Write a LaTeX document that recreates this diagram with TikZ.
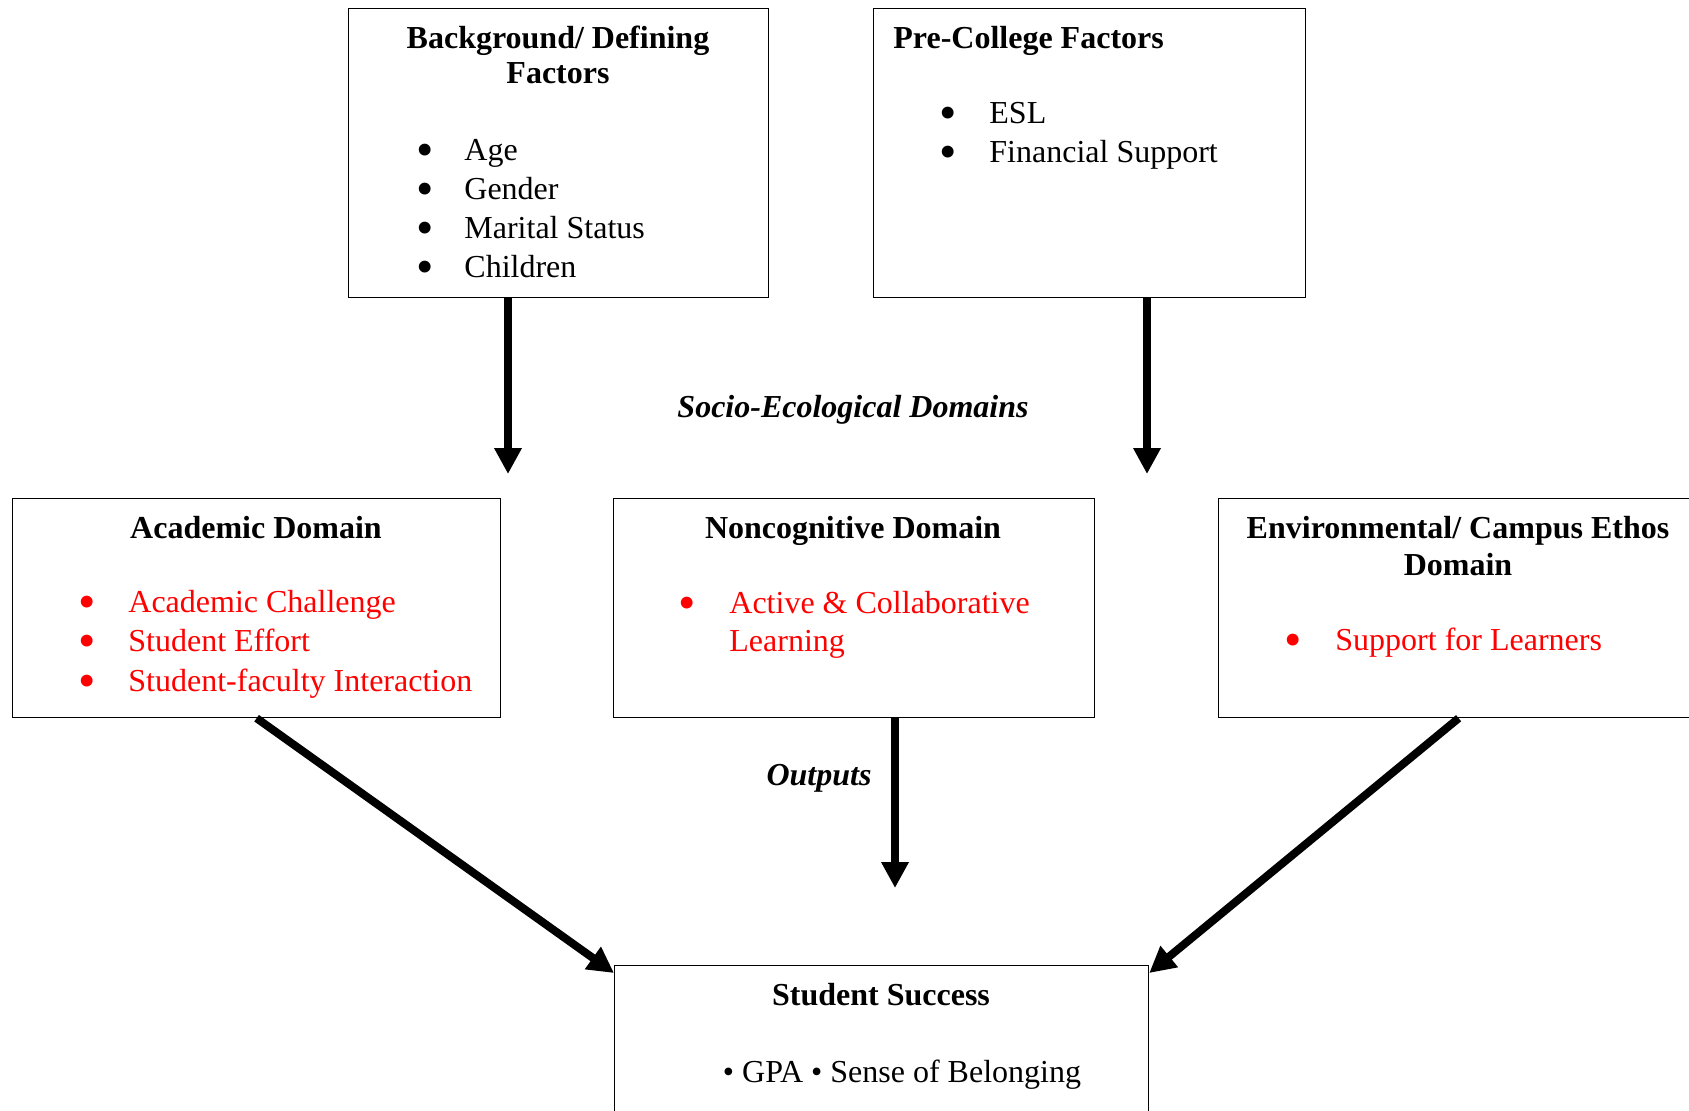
\documentclass[tikz,border=0pt]{standalone}
\usepackage{fontspec}
\setmainfont{Liberation Serif}
\usetikzlibrary{arrows.meta}

\newcommand{\bodysize}{\fontsize{16}{19.5}\selectfont}
\newcommand{\bigdot}{\scalebox{1.55}{•}}

\tikzset{
  box/.style={draw, line width=0.6pt, anchor=north west, inner sep=0pt},
  head/.style={anchor=base, inner sep=0pt, font=\bodysize\bfseries},
  label/.style={anchor=base, inner sep=0pt, font=\bodysize\bfseries\itshape},
  item/.style={anchor=base west, inner sep=0pt, font=\bodysize},
  dot/.style={anchor=base, inner sep=0pt, yshift=-3pt, font=\bodysize},
  flow/.style={line width=4pt, -{Triangle[length=13pt, width=13pt]}},
}

\begin{document}
\begin{tikzpicture}[x=0.5pt, y=-0.5pt]
  \useasboundingbox (0,0) rectangle (1689,1110);
  % top row
  \node[box, minimum width=210pt, minimum height=144.5pt] (bg) at (348,8) {};
  \node[head] (bghead1) at (558,48) {Background/ Defining};
  \node[head] (bghead2) at (558,83) {Factors};
  \foreach \t [count=\i from 0] in {Age, Gender, Marital Status, Children} {
    \node[dot] (bgdot\i) at (425,160+39*\i) {\bigdot};
    \node[item] (bgitem\i) at (464,160+39*\i) {\t};
  }
  \node[box, minimum width=216pt, minimum height=144.5pt] (pc) at (873,8) {};
  \node[head, anchor=base west] (pchead) at (893,48) {Pre-College Factors};
  \foreach \t [count=\i from 0] in {ESL, Financial Support} {
    \node[dot] (pcdot\i) at (948,123+39*\i) {\bigdot};
    \node[item] (pcitem\i) at (989,123+39*\i) {\t};
  }
  \node[label] (domains) at (853,417) {Socio-Ecological Domains};
  % domains
  \node[box, minimum width=244pt, minimum height=109.5pt] (ac) at (12,498) {};
  \node[head] (achead) at (256,538) {Academic Domain};
  \foreach \t [count=\i from 0] in {Academic Challenge, Student Effort,
      Student-faculty Interaction} {
    \node[dot, red] (acdot\i) at (87,612+39.5*\i) {\bigdot};
    \node[item, red] (acitem\i) at (128,612+39.5*\i) {\t};
  }
  \node[box, minimum width=240.5pt, minimum height=109.5pt] (nc) at (613,498) {};
  \node[head] (nchead) at (853,538) {Noncognitive Domain};
  \node[dot, red] (ncdot) at (687,613) {\bigdot};
  \node[item, red] (ncitem1) at (729,613) {Active \& Collaborative};
  \node[item, red] (ncitem2) at (729,651) {Learning};
  \node[box, minimum width=240pt, minimum height=109.5pt] (env) at (1218,498) {};
  \node[head] (envhead1) at (1458,538) {Environmental/ Campus Ethos};
  \node[head] (envhead2) at (1458,575) {Domain};
  \node[dot, red] (envdot) at (1293,650) {\bigdot};
  \node[item, red] (envitem) at (1335,650) {Support for Learners};
  % outcome
  \node[box, minimum width=267pt, minimum height=77.5pt] (ss) at (614,965) {};
  \node[head] (sshead) at (881,1005) {Student Success};
  \node[item, anchor=base] (ssitems) at (902,1082) {• GPA • Sense of Belonging};
  \node[label] (outputs) at (819,785) {Outputs};
  % arrows
  \coordinate (bgend) at (508,474);
  \coordinate (pcend) at (1147,474);
  \coordinate (ncend) at (895,888);
  \draw[flow] (bg.south -| bgend) -- (bgend);
  \draw[flow] (pc.south -| pcend) -- (pcend);
  \draw[flow] (nc.south -| ncend) -- (ncend);
  \draw[flow] (ac.south) -- ([yshift=-4pt]ss.north west);
  \draw[flow] (env.south) -- ([yshift=-4pt]ss.north east);
\end{tikzpicture}
\end{document}
